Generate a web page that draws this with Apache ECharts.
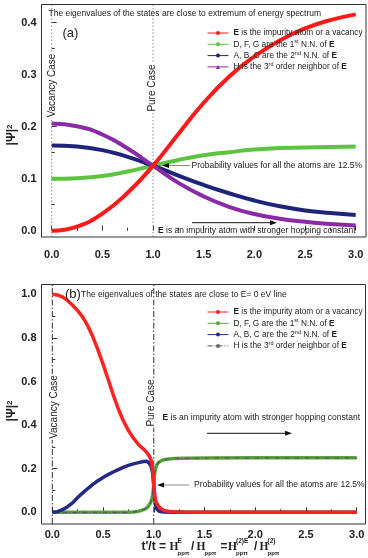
<!DOCTYPE html>
<html><head><meta charset="utf-8">
<script src="https://cdn.jsdelivr.net/npm/echarts@6/dist/echarts.min.js"></script>
<style>html,body{margin:0;padding:0;background:#fff}#c{width:368px;height:558px}</style>
</head><body><div id="c"></div>
<script>
// ---- Panel (a): extremum states ----
const aX = [0,0.25,0.5,0.75,1,1.25,1.5,1.75,2,2.25,2.5,2.75,3];
const aE = [0,0.008,0.033,0.073,0.125,0.186,0.246,0.296,0.335,0.366,0.389,0.405,0.416];
const aD = [0.100,0.101,0.105,0.114,0.125,0.136,0.145,0.151,0.156,0.159,0.160,0.161,0.162];
const aA = [0.164,0.162,0.155,0.142,0.125,0.106,0.088,0.072,0.058,0.047,0.039,0.034,0.030];
const aH = [0.206,0.201,0.185,0.158,0.125,0.092,0.066,0.046,0.032,0.023,0.017,0.013,0.010];
// ---- Panel (b): states near E = 0 eV ----
const bX = [0,0.05,0.1,0.15,0.2,0.25,0.3,0.35,0.4,0.45,0.5,0.55,0.6,0.65,0.7,0.75,0.8,0.85,0.9,0.93,0.95,0.97,0.98,0.99,1.0,1.01,1.02,1.03,1.05,1.08,1.1,1.15,1.2,1.3,1.5,2.0,2.5,3.0];
const bE = [1.0,0.997,0.988,0.972,0.95,0.925,0.895,0.855,0.805,0.745,0.68,0.61,0.54,0.475,0.42,0.375,0.34,0.31,0.29,0.275,0.262,0.245,0.228,0.19,0.125,0.075,0.052,0.04,0.026,0.014,0.009,0.004,0.002,0.001,0,0,0,0];
const bD = [0,0,0,0,0,0,0,0,0,0,0,0,0,0,0,0,0.001,0.005,0.012,0.02,0.03,0.045,0.06,0.08,0.125,0.18,0.205,0.218,0.23,0.238,0.241,0.245,0.247,0.248,0.249,0.25,0.25,0.25];
const bA = [0,0.003,0.012,0.026,0.043,0.068,0.089,0.109,0.128,0.145,0.160,0.173,0.185,0.196,0.206,0.215,0.222,0.228,0.233,0.234,0.228,0.215,0.200,0.175,0.125,0.060,0.030,0.015,0.006,0.002,0.001,0,0,0,0,0,0,0];
const bH = [0,0,0,0,0,0,0,0,0,0,0,0,0,0,0,0,0.001,0.005,0.012,0.02,0.03,0.045,0.06,0.08,0.125,0.18,0.205,0.218,0.23,0.238,0.241,0.245,0.247,0.248,0.249,0.25,0.25,0.25];
const caseLines = [0, 1];

const FF = "'Liberation Sans', Arial, sans-serif";
const labels = {
  aE:'{b|E} is the impurity atom or a vacancy', aD:'D, F, G are the 1{s|st} N.N. of {b|E}',
  aA:'A, B, C are the 2{s|nd} N.N. of {b|E}', aH:'H is the 3{s|rd} order neighbor of {b|E}',
  bE:'{b|E} is the impurity atom or a vacancy', bD:'D, F, G are the 1{s|st} N.N. of {b|E}',
  bA:'A, B, C are the 2{s|nd} N.N. of {b|E}', bH:'H is the 3{s|rd} order neighbor of {b|E}'
};
const richT = {b:{fontWeight:'bold',fontSize:8.3,lineHeight:11,fontFamily:FF,color:'#222'}, s:{fontSize:5.5,lineHeight:5,verticalAlign:'top',fontFamily:FF,color:'#222'}};

function ser(name, gi, x, y, color, width, extra){
  return Object.assign({type:'line', name, xAxisIndex:gi, yAxisIndex:gi,
    data:x.map((v,i)=>[v,y[i]]), showSymbol:false, symbol:'circle', clip:false,
    lineStyle:{color, width}, itemStyle:{color}, emphasis:{disabled:true}, silent:true, animation:false}, extra||{});
}
function vline(gi, x, lo, hi, style){
  return {type:'line', xAxisIndex:gi, yAxisIndex:gi, data:[[x,lo],[x,hi]], showSymbol:false, symbol:'none', clip:false,
    lineStyle:style, silent:true, animation:false, z:1};
}
const series = [
  ser('aD',0,aX,aD,'#5cc43f',4,{smooth:true}),
  ser('aA',0,aX,aA,'#1f247a',4,{smooth:true}),
  ser('aH',0,aX,aH,'#8a2aa6',4,{smooth:true, symbol:'triangle'}),
  ser('aE',0,aX,aE,'#ff1a1a',4,{smooth:true}),
  ser('bD',1,bX,bD,'#5aa63e',3.5),
  ser('bH',1,bX,bH,'#3b4f30',1.2,{lineStyle:{color:'#555',width:1.2,type:[5,2,1,2]}, itemStyle:{color:'#666'}}),
  ser('bA',1,bX,bA,'#222a86',3.5),
  ser('bE',1,bX,bE,'#ff2222',3.5)
];
caseLines.forEach(x=>{
  series.push(vline(0,x,-0.012,0.436,{color:'#888',width:1,type:[1.5,2]}));
  series.push(vline(1,x,-0.054,1.047,{color:'#333',width:1,type:[6,2,1.5,2]}));
});

function axisX(gi, offset, margin){
  return {type:'value', gridIndex:gi, min:0, max:3, interval:0.5, offset,
    axisLine:{show:false}, splitLine:{show:false},
    axisTick:{inside:true, length:5, lineStyle:{color:'#333'}},
    minorTick:{show:true, splitNumber:2, length:3, lineStyle:{color:'#333'}},
    axisLabel:{margin, fontSize:11, fontWeight:'bold', color:'#222', fontFamily:FF, formatter:v=>v.toFixed(1)}};
}
function axisY(gi, max, interval, offset){
  return {type:'value', gridIndex:gi, min:0, max, interval, offset,
    axisLine:{show:false}, splitLine:{show:false},
    axisTick:{inside:true, length:5, lineStyle:{color:'#333'}},
    minorTick:{show:true, splitNumber:2, length:3, lineStyle:{color:'#333'}},
    axisLabel:{margin:5, fontSize:11, fontWeight:'bold', color:'#222', fontFamily:FF, formatter:v=>v.toFixed(1)}};
}
function legend(keys, top){
  return {data:keys, orient:'vertical', left:207, top, itemWidth:21, itemHeight:5, itemGap:0.3, padding:0,
    selectedMode:false, formatter:n=>labels[n], lineStyle:{width:1}, itemStyle:{borderWidth:0},
    textStyle:{fontSize:8.3, lineHeight:11, color:'#222', fontFamily:FF, rich:richT}};
}

// ---- annotation helpers ----
const G = [];
function txt(text, x, y, size, opt){
  opt = opt||{};
  G.push({type:'text', x, y, rotation:opt.rot||0, z:20, silent:true,
    style:Object.assign({text, fontSize:size, fontFamily:opt.ff||FF, fontWeight:opt.fw||'normal', fill:opt.fill||'#222',
      align:opt.align||'left', verticalAlign:'middle', rich:opt.rich}, opt.bg?{backgroundColor:'#fff', padding:[0,1]}:{})});
}
function arrow(x1, x2, y, lineColor){
  const dir = x2 > x1 ? 1 : -1;
  G.push({type:'line', z:20, silent:true, shape:{x1, y1:y, x2:x2-dir*5, y2:y}, style:{stroke:lineColor, lineWidth:1}});
  G.push({type:'polygon', z:20, silent:true, shape:{points:[[x2,y],[x2-dir*7,y-2.5],[x2-dir*7,y+2.5]]}, style:{fill:'#111'}});
}
function frame(x, y, w, h){
  G.push({type:'rect', z:15, silent:true, shape:{x, y, width:w, height:h}, style:{fill:'none', stroke:'#333', lineWidth:1}});
}
const richE = {e:{fontWeight:'bold', fontSize:8.5, fontFamily:FF, fill:'#222'}};
const richPsi = {s:{fontSize:8, fontWeight:'bold', fontFamily:FF, verticalAlign:'top', lineHeight:6}};

frame(41.5, 4.5, 324.5, 232.5);
frame(41.5, 284.5, 324, 239.5);
// panel (a)
txt('The eigenvalues of the states are close to extremum of energy spectrum', 48.5, 14, 8.5);
txt('(a)', 62.5, 33, 13);
txt('Vacancy Case', 52.5, 85.5, 10, {rot:Math.PI/2, align:'center', bg:true});
txt('Pure Case', 152.5, 88, 10, {rot:Math.PI/2, align:'center', bg:true});
txt('Probability values for all the atoms are 12.5%', 191.5, 165.5, 8.5);
arrow(190, 162, 165.5, '#888');
txt('{e|E} is an impurity atom with stronger hopping constant', 158, 230.5, 8.5, {rich:richE});
arrow(192, 277, 222.7, '#111');
txt('|Ψ|{s|2}', 12, 135, 12, {rot:Math.PI/2, align:'center', fw:'bold', rich:richPsi});
// panel (b)
txt('(b)', 65, 294.5, 13);
txt('The eigenvalues of the states are close to E= 0 eV line', 81, 294.5, 8.5);
txt('Vacancy Case', 54.5, 407, 10, {rot:Math.PI/2, align:'center', bg:true});
txt('Pure Case', 151.5, 403, 10, {rot:Math.PI/2, align:'center', bg:true});
txt('{e|E} is an impurity atom with stronger hopping constant', 162.5, 417.5, 8.5, {rich:richE});
arrow(207, 292, 433.3, '#111');
txt('Probability values for all the atoms are 12.5%', 194, 485, 8.5);
arrow(189, 157, 485, '#888');
txt('|Ψ|{s|2}', 12, 411, 12, {rot:Math.PI/2, align:'center', fw:'bold', rich:richPsi});
// x-axis title of (b)
const SER = "'Liberation Serif', 'Times New Roman', serif";
txt("t'/t =", 141.5, 547, 12, {fw:'bold'});
txt('H', 169.5, 547, 11.5, {fw:'bold', ff:SER});
txt('E', 177.5, 541.5, 6.5, {fw:'bold'});
txt('ppπ', 177.5, 553, 6, {fw:'bold'});
txt('/', 191, 547, 12, {fw:'bold'});
txt('H', 196.5, 547, 11.5, {fw:'bold', ff:SER});
txt('ppπ', 204.5, 553, 6, {fw:'bold'});
txt('=', 220.5, 547, 12, {fw:'bold'});
txt('H', 228, 547, 11.5, {fw:'bold', ff:SER});
txt('(2)E', 236, 541.5, 6.5, {fw:'bold'});
txt('ppπ', 236, 553, 6, {fw:'bold'});
txt('/', 254, 547, 12, {fw:'bold'});
txt('H', 259.5, 547, 11.5, {fw:'bold', ff:SER});
txt('(2)', 267.5, 541.5, 6.5, {fw:'bold'});
txt('ppπ', 267.5, 553, 6, {fw:'bold'});

const chart = echarts.init(document.getElementById('c'), null, {renderer:'canvas'});
chart.setOption({
  animation:false,
  backgroundColor:'#fff',
  grid:[
    {left:51.7, top:22.7, width:304, height:208},
    {left:52.3, top:294.3, width:304.4, height:218}
  ],
  xAxis:[axisX(0, 6.3, 12), axisX(1, 11.7, 5)],
  yAxis:[axisY(0, 0.4, 0.1, 10.2), axisY(1, 1.0, 0.2, 10.8)],
  legend:[legend(['aE','aD','aA','aH'], 27.5), legend(['bE','bD','bA','bH'], 306.5)],
  series,
  graphic:G
});
</script></body></html>
